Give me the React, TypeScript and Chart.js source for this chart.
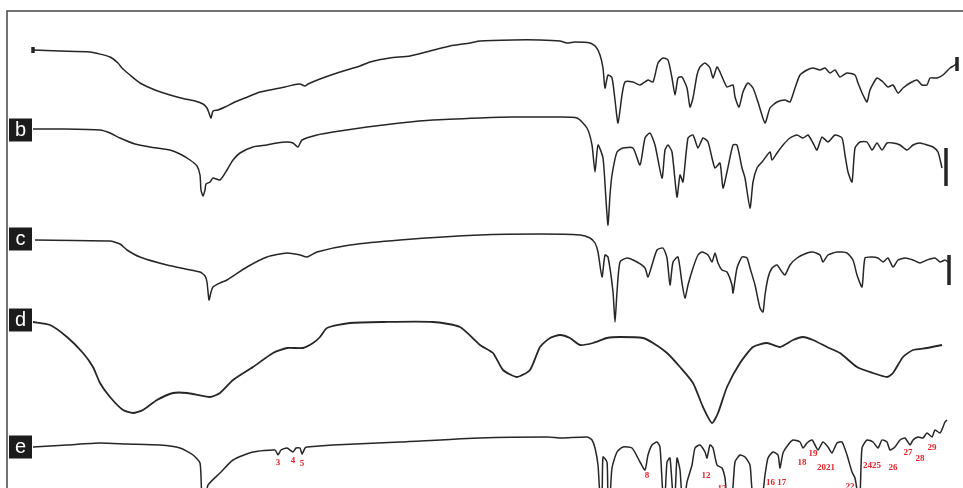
import React, { useEffect, useRef } from "react";
import { Chart, registerables } from "chart.js";

Chart.register(...registerables);

// Spectra: [position, relative depth] pairs (depth grows downward)
const traceA: number[][] = [
  [33,50],[60,51],[90,52],[110,57],[118,63],[122,68],[130,75],[140,83],[155,90],[170,95],[185,99],[195,101],[203,104],[207,108],[209,113],[211,118],[213,111],[218,110],[225,107],[235,102],[245,98],[260,92],[275,89],[285,87],[293,85],[300,84],[305,86],[308,84],[320,79],[340,72],[360,66],[370,62],[390,58],[410,56],[430,51],[450,46],[470,43],[480,41],[513,40],[540,40],[560,41],[567,43],[575,42],[590,43],[596,47],[600,55],[603,68],[605,88],[608,75],[612,78],[615,100],[618,123],[622,95],[625,82],[633,82],[640,85],[648,80],[653,82],[658,63],[663,58],[668,60],[672,78],[675,95],[678,78],[682,77],[687,88],[690,107],[693,98],[697,75],[700,67],[705,63],[710,68],[713,78],[717,67],[720,72],[727,87],[733,85],[735,97],[739,107],[743,92],[748,83],[753,88],[758,102],[765,123],[770,108],[777,102],[785,100],[790,102],[795,88],[800,75],[807,70],[813,68],[820,70],[825,68],[830,73],[835,70],[840,77],[847,73],[855,75],[858,83],[863,95],[867,102],[870,90],[877,78],[883,82],[888,87],[893,85],[898,93],[903,88],[910,83],[917,80],[922,85],[927,85],[930,78],[937,78],[943,75],[950,68],[955,65],[957,62]
];

const traceB: number[][] = [
  [33,129],[60,129],[100,130],[110,133],[120,138],[135,144],[150,147],[170,150],[180,154],[190,160],[197,166],[200,175],[201,190],[203,196],[205,190],[206,184],[210,182],[213,178],[220,180],[227,170],[233,160],[240,153],[253,147],[267,145],[277,143],[287,142],[293,143],[298,147],[302,140],[317,135],[333,132],[367,127],[400,123],[433,120],[480,118],[513,117],[557,117],[577,118],[587,128],[592,145],[595,172],[598,145],[603,158],[606,200],[608,225],[610,195],[612,175],[617,152],[623,148],[633,148],[640,165],[645,138],[650,133],[655,145],[662,178],[665,150],[668,145],[672,152],[677,197],[680,175],[683,182],[688,138],[693,135],[698,148],[703,138],[708,142],[712,158],[715,168],[720,163],[723,188],[727,172],[733,145],[737,145],[742,168],[745,178],[750,208],[753,182],[757,168],[762,162],[770,152],[772,160],[777,153],[783,145],[790,138],[797,135],[803,138],[808,135],[813,143],[817,150],[822,137],[828,142],[835,135],[842,138],[845,155],[848,172],[852,182],[855,148],[860,142],[867,142],[872,150],[877,143],[882,150],[887,143],[893,143],[900,145],[907,150],[913,145],[920,143],[927,145],[933,147],[938,152],[942,168]
];

const traceC: number[][] = [
  [35,240],[110,241],[120,244],[127,250],[140,257],[167,265],[200,272],[205,276],[207,282],[209,300],[211,292],[213,287],[220,283],[227,280],[247,267],[267,257],[287,253],[300,255],[307,257],[317,252],[350,245],[400,240],[480,235],[540,234],[580,235],[590,238],[595,243],[598,252],[602,277],[605,255],[608,257],[613,292],[615,322],[617,292],[620,262],[627,258],[637,262],[645,268],[648,277],[652,265],[657,250],[663,248],[667,258],[670,285],[673,262],[678,257],[682,283],[685,298],[688,285],[693,268],[698,255],[702,252],[708,255],[712,262],[715,253],[718,263],[722,270],[727,272],[732,285],[733,293],[737,268],[742,257],[747,258],[750,268],[755,285],[760,308],[763,312],[765,295],[768,278],[772,268],[777,265],[782,272],[785,275],[790,265],[797,258],[807,253],[813,252],[820,255],[823,262],[828,255],[837,252],[847,253],[853,260],[857,275],[862,287],[865,258],[872,257],[878,258],[883,262],[888,258],[893,267],[898,260],[905,258],[913,260],[920,263],[927,260],[935,258],[940,262],[945,260],[948,262]
];

const traceD: number[][] = [
  [33,322],[50,325],[67,337],[83,353],[93,367],[100,383],[110,397],[123,410],[133,413],[143,410],[157,400],[173,393],[187,393],[210,397],[220,393],[233,380],[253,367],[273,353],[287,348],[303,348],[313,343],[320,337],[327,328],[350,323],[383,322],[433,322],[460,327],[480,345],[493,353],[503,370],[517,377],[530,370],[540,347],[550,338],[560,335],[570,338],[580,345],[593,343],[607,338],[620,337],[643,338],[653,343],[667,353],[680,367],[693,383],[703,407],[712,423],[718,413],[727,387],[740,363],[753,347],[767,343],[780,347],[793,340],[803,337],[813,340],[827,347],[840,353],[857,367],[873,373],[887,377],[893,373],[903,357],[913,350],[927,348],[942,345]
];

const traceE: number[][] = [
  [33,447],[67,445],[100,443],[127,444],[160,445],[180,448],[193,455],[200,463],[202,495],[206,495],[208,485],[220,473],[233,460],[253,452],[275,450],[278,455],[281,450],[287,448],[293,452],[296,448],[300,448],[302,454],[305,448],[307,447],[333,445],[400,442],[480,438],[547,437],[562,438],[587,437],[592,440],[595,448],[598,465],[600,495],[602,495],[603,457],[607,462],[608,495],[610,495],[612,468],[617,452],[623,447],[632,448],[640,462],[645,470],[648,455],[652,445],[657,442],[660,447],[663,495],[665,495],[667,462],[670,458],[673,495],[675,495],[677,458],[680,470],[682,495],[685,495],[687,482],[692,465],[695,448],[700,445],[705,452],[707,458],[710,445],[713,448],[717,465],[722,468],[725,478],[727,495],[732,495],[735,462],[740,455],[745,457],[750,465],[753,495],[762,495],[765,475],[768,458],[773,452],[778,455],[780,468],[783,453],[788,445],[793,440],[800,442],[803,448],[807,443],[812,440],[815,445],[818,450],[823,442],[828,447],[832,453],[837,443],[842,442],[847,455],[852,472],[855,478],[858,495],[860,495],[862,448],[867,440],[873,442],[878,448],[882,440],[887,442],[890,450],[895,447],[900,440],[905,438],[910,445],[913,440],[918,437],[923,438],[927,433],[932,437],[935,430],[940,433],[943,427],[945,422],[947,420]
];

// Instrument end / start markers (short vertical bars)
const markerA0: number[][] = [[33,47],[33,53]];
const markerA: number[][] = [[957,57],[957,71]];
const markerB: number[][] = [[946,148],[946,186]];
const markerC: number[][] = [[949,255],[949,285]];

// Panel labels and their baseline depth
const panelLetters = ["b", "c", "d", "e"];
const panelDepths = [130, 239, 320, 447];

// Red peak numbers on trace e
const peakTexts = ["3", "4", "5", "8", "12", "13", "16 17", "18", "19", "2021", "22", "2425", "26", "27", "28", "29"];
const peakPos: number[][] = [
  [278,463],[293,461],[302,464],[647,476],[706,476],[722,489],[776,483],[802,463],[813,454],[826,468],[850,487],[872,466],[893,468],[908,453],[920,459],[932,448]
];

const toXY = (arr: number[][]) => arr.map(([x, y]) => ({ x, y }));

const framePlugin = {
  id: "frame",
  afterDraw(chart: any) {
    const { ctx, chartArea, scales } = chart;
    ctx.save();
    ctx.strokeStyle = "#444";
    ctx.lineWidth = 1.5;
    ctx.beginPath();
    ctx.moveTo(chartArea.left, chartArea.bottom);
    ctx.lineTo(chartArea.left, chartArea.top);
    ctx.lineTo(chartArea.right, chartArea.top);
    ctx.stroke();

    // panel letter boxes
    panelLetters.forEach((t, i) => {
      const y = scales.y.getPixelForValue(panelDepths[i]);
      ctx.fillStyle = "#1c1c1c";
      ctx.fillRect(chartArea.left + 2, y - 11.5, 23, 23);
      ctx.fillStyle = "#ffffff";
      ctx.font = "20px 'Liberation Sans', Arial, sans-serif";
      ctx.textAlign = "center";
      ctx.textBaseline = "middle";
      ctx.fillText(t, chartArea.left + 13.5, y);
    });

    // red peak numbers
    ctx.fillStyle = "#e3242b";
    ctx.font = "bold 9px 'Liberation Serif', serif";
    ctx.textAlign = "center";
    ctx.textBaseline = "middle";
    peakTexts.forEach((t, i) => {
      const px = scales.x.getPixelForValue(peakPos[i][0]);
      const py = scales.y.getPixelForValue(peakPos[i][1]);
      ctx.fillText(t, px, py);
    });
    ctx.restore();
  },
};

export default function App() {
  const ref = useRef<HTMLCanvasElement | null>(null);
  useEffect(() => {
    if (!ref.current) return;
    const line = (data: number[][], w = 1.5) => ({
      data: toXY(data),
      borderColor: "#262626",
      borderWidth: w,
      pointRadius: 0,
      tension: 0.2,
      fill: false,
    });
    const chart = new Chart(ref.current, {
      type: "line",
      data: {
        datasets: [
          line(traceA),
          line(traceB),
          line(traceC),
          line(traceD, 1.8),
          line(traceE),
          { ...line(markerA0, 3.5), tension: 0 },
          { ...line(markerA, 3.5), tension: 0 },
          { ...line(markerB, 3.5), tension: 0 },
          { ...line(markerC, 3.5), tension: 0 },
        ],
      },
      options: {
        animation: false,
        responsive: true,
        maintainAspectRatio: false,
        layout: { padding: { left: 7, top: 11, right: 0, bottom: 0 } },
        plugins: { legend: { display: false }, tooltip: { enabled: false } },
        scales: {
          x: { type: "linear", min: 7, max: 963, display: false },
          y: { type: "linear", min: 11, max: 488, reverse: true, display: false },
        },
      },
      plugins: [framePlugin],
    });
    return () => chart.destroy();
  }, []);
  return (
    <div style={{ position: "fixed", left: 0, top: 0, width: 963, height: 488, background: "#fff" }}>
      <canvas ref={ref} />
    </div>
  );
}
